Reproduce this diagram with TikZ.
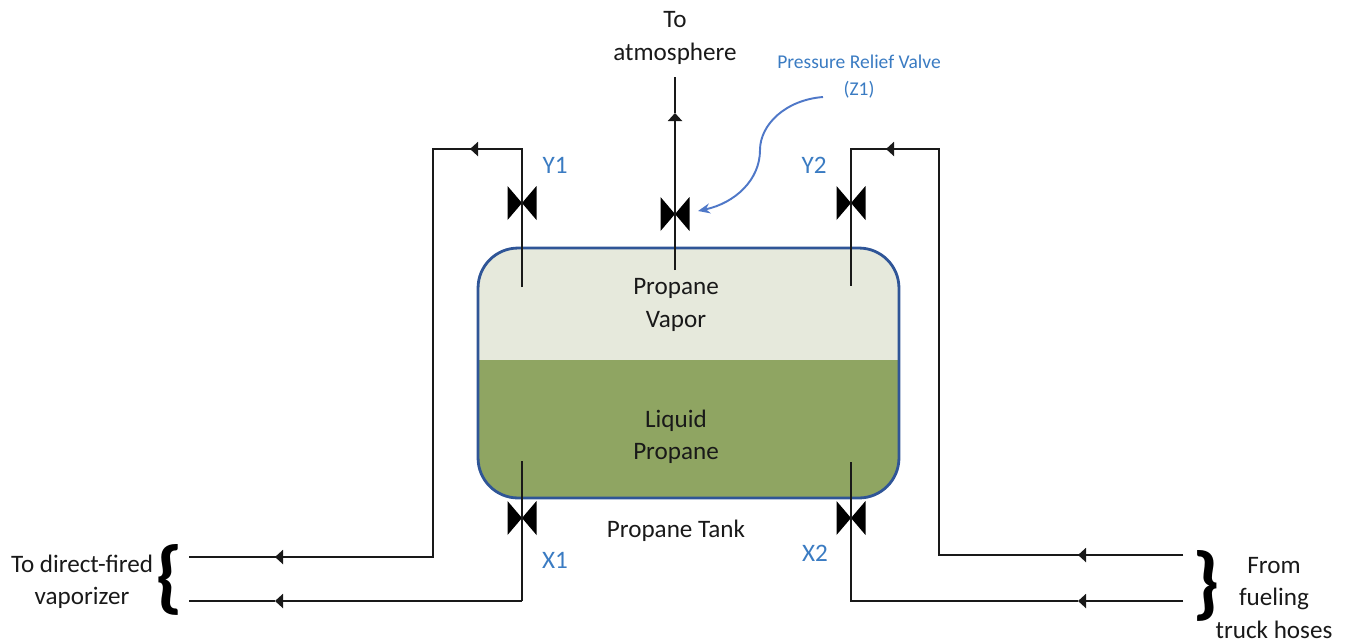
\documentclass[tikz,border=0pt]{standalone}
\usepackage{fontspec}
\setmainfont{Carlito}
\usepackage{xcolor}
\usetikzlibrary{arrows.meta,positioning}
\definecolor{tankblue}{HTML}{2F5597}
\definecolor{vaporfill}{HTML}{E6E9DC}
\definecolor{liquidfill}{HTML}{8FA562}
\definecolor{labelblue}{HTML}{3A7BC2}
\definecolor{leaderblue}{HTML}{4F78C8}

\begin{document}
\begin{tikzpicture}[
  x=0.02cm, y=-0.02cm,
  tank/.style={rectangle, rounded corners=0.8cm, draw=tankblue, line width=1.6pt, fill=vaporfill,
    minimum width=8.42cm, minimum height=5cm, inner sep=0pt,
    path picture={\fill[liquidfill, sharp corners] (path picture bounding box.south west) rectangle
      ([yshift=0.26cm]path picture bounding box.east);}},
  valve/.style={rectangle, minimum width=0.58cm, minimum height=0.68cm, inner sep=0pt,
    path picture={\fill[black] (path picture bounding box.north west) -- (path picture bounding box.south west)
      -- (path picture bounding box.center) -- cycle;
      \fill[black] (path picture bounding box.north east) -- (path picture bounding box.south east)
      -- (path picture bounding box.center) -- cycle;}},
  pipe/.style={line width=1.2pt, black!90},
  flow/.style={pipe, -{Triangle[length=0.16cm, width=0.28cm]}},
  txt/.style={font=\fontsize{14.3}{18.3}\selectfont, align=center, text=black!90},
  tag/.style={font=\fontsize{14.3}{18.1}\selectfont, text=labelblue},
  note/.style={font=\fontsize{11.1}{15.3}\selectfont, align=center, text=labelblue},
  brace/.style={font=\fontsize{46}{46}\bfseries\selectfont, inner sep=0pt, text=black},
  leader/.style={line width=1.1pt, leaderblue, -{Stealth[length=0.24cm, width=0.2cm]}},
]
\useasboundingbox (0,0) rectangle (1351,643);

%% --- Tank ---
\node[tank] (tank) at (688.5,373) {};

%% --- Valves ---
\node[valve] (y1) at (522,203) {};
\node[valve] (z1) at (675,214) {};
\node[valve] (y2) at (851,203) {};
\node[valve] (x1) at (522,518) {};
\node[valve] (x2) at (851,518) {};

%% --- Pipe corners and ends ---
\coordinate (y1in)   at (522,287);
\coordinate (y1top)  at (522,149);
\coordinate (y1mark) at (470,149);
\coordinate (y1left) at (433,149);
\coordinate (y1low)  at (433,557);
\coordinate (y1mid)  at (275,557);
\coordinate (y1end)  at (189,557);
\coordinate (x1in)   at (522,461);
\coordinate (x1low)  at (522,601);
\coordinate (x1mid)  at (275,601);
\coordinate (x1end)  at (189,601);
\coordinate (z1in)   at (675,270);
\coordinate (z1mid)  at (675,113);
\coordinate (z1end)  at (675,77);
\coordinate (y2in)   at (851,286);
\coordinate (y2top)  at (851,149);
\coordinate (y2mark) at (886,149);
\coordinate (y2right) at (939,149);
\coordinate (y2low)  at (939,555);
\coordinate (y2mid)  at (1078,555);
\coordinate (y2end)  at (1183,555);
\coordinate (x2in)   at (851,462);
\coordinate (x2low)  at (851,601);
\coordinate (x2mid)  at (1078,601);
\coordinate (x2end)  at (1183,601);
\coordinate (relief) at (823,97);
\coordinate (relieftip) at (698,211);

%% --- Vapor outlet ---
\draw[pipe] (y1in) -- (y1.center) -- (y1top) -- (y1mark);
\draw[flow] (y1top) -- (y1mark);
\draw[pipe] (y1mark) -- (y1left) -- (y1low) -- (y1mid);
\draw[flow] (y1low) -- (y1mid);
\draw[pipe] (y1mid) -- (y1end);

%% --- Liquid outlet ---
\draw[pipe] (x1in) -- (x1.center) -- (x1low);
\draw[flow] (x1low) -- (x1mid);
\draw[pipe] (x1mid) -- (x1end);

%% --- Relief line ---
\draw[pipe] (z1in) -- (z1.center);
\draw[flow] (z1.center) -- (z1mid);
\draw[pipe] (z1mid) -- (z1end);

%% --- Vapor return ---
\draw[pipe] (y2end) -- (y2low) -- (y2right) -- (y2mark);
\draw[flow] (y2right) -- (y2mark);
\draw[pipe] (y2mark) -- (y2top) -- (y2.center) -- (y2in);
\draw[flow] (y2end) -- (y2mid);

%% --- Liquid fill ---
\draw[flow] (x2end) -- (x2mid);
\draw[pipe] (x2mid) -- (x2low) -- (x2.center) -- (x2in);

%% --- Leader to relief valve ---
\draw[leader] (relief) .. controls (785,100) and (760,125) .. (760,150)
  .. controls (760,180) and (735,203) .. (relieftip);

%% --- Labels ---
\node[txt] (atm) at (675,38) {To\\atmosphere};
\node[note] (zlabel) at (859,76.5) {Pressure Relief Valve\\(Z1)};
\node[tag] (ty1) at (555,165) {Y1};
\node[tag] (ty2) at (814,165) {Y2};
\node[tag] (tx1) at (555,560) {X1};
\node[tag] (tx2) at (815,553) {X2};
\node[txt] (vapor) at (676,305) {Propane\\Vapor};
\node[txt] (liquid) at (676,437) {Liquid\\Propane};
\node[txt] (tanklabel) at (676,531) {Propane Tank};
\node[txt] (direct) at (82,582) {To direct-fired\\vaporizer};
\node[txt] (truck) at (1274,598) {From\\fueling\\truck hoses};
\node[brace] (lbrace) at (169,580) {\{};
\node[brace] (rbrace) at (1206,586) {\}};

\end{tikzpicture}
\end{document}
